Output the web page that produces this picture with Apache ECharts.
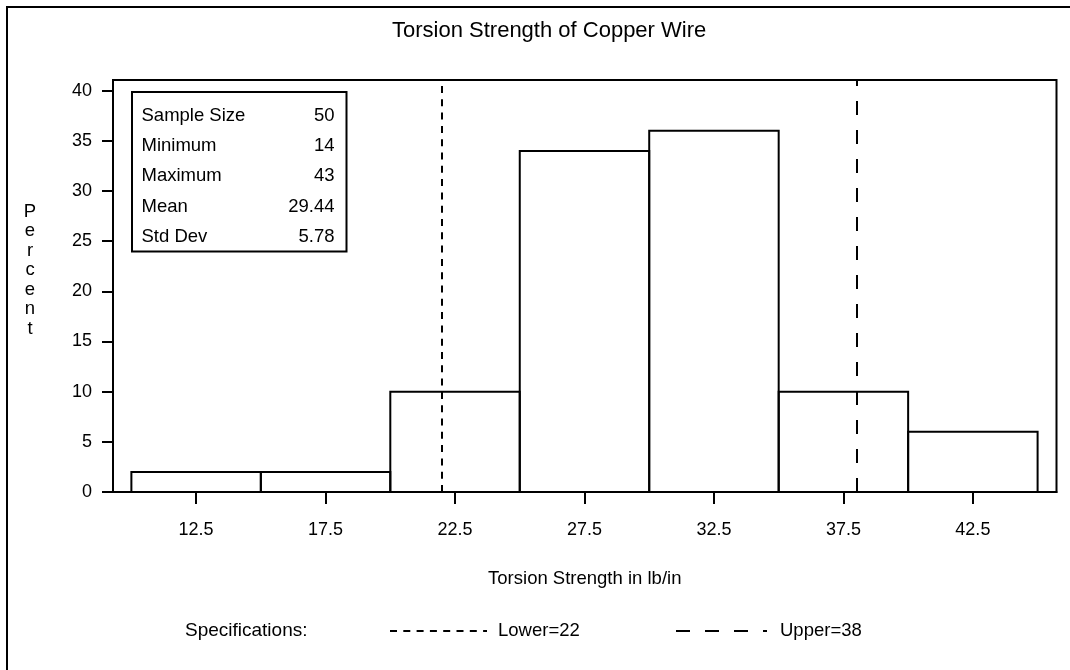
<!DOCTYPE html>
<html>
<head>
<meta charset="utf-8">
<script src="https://cdn.jsdelivr.net/npm/echarts@6/dist/echarts.min.js"></script>
<style>
html,body{margin:0;padding:0;background:#fff;}
#chart{width:1070px;height:670px;}
</style>
</head>
<body>
<div id="chart"></div>
<script>
// ---- data ----
const binEdges = [10, 15, 20, 25, 30, 35, 40, 45];
const percents = [2, 2, 10, 34, 36, 10, 6];
const xTickValues = [12.5, 17.5, 22.5, 27.5, 32.5, 37.5, 42.5];
const yTickValues = [0, 5, 10, 15, 20, 25, 30, 35, 40];
const specLower = 22;
const specUpper = 38;
const statLabels = ['Sample Size', 'Minimum', 'Maximum', 'Mean', 'Std Dev'];
const statValues = ['50', '14', '43', '29.44', '5.78'];
const titleText = 'Torsion Strength of Copper Wire';
const xAxisName = 'Torsion Strength in lb/in';
const yAxisName = 'Percent';

const FONT = '"Liberation Sans", Arial, Helvetica, sans-serif';

const barData = percents.map((p, i) => [binEdges[i], binEdges[i + 1], p]);

const chart = echarts.init(document.getElementById('chart'), null, {renderer: 'canvas'});

const graphics = [];
// outer frame
graphics.push({type: 'rect', shape: {x: 7, y: 7, width: 1075, height: 675},
  style: {fill: 'none', stroke: '#000', lineWidth: 2}, z: 10});
// stats box
graphics.push({type: 'rect', shape: {x: 132, y: 92, width: 214.5, height: 159.5},
  style: {fill: '#fff', stroke: '#000', lineWidth: 2}, z: 10});
statLabels.forEach((s, i) => {
  const y = 116 + i * 30.2;
  graphics.push({type: 'text', x: 141.5, y: y, z: 11,
    style: {text: s, font: '18.5px ' + FONT, fill: '#000', textAlign: 'left', textVerticalAlign: 'middle'}});
  graphics.push({type: 'text', x: 334.5, y: y, z: 11,
    style: {text: statValues[i], font: '18.5px ' + FONT, fill: '#000', textAlign: 'right', textVerticalAlign: 'middle'}});
});
// vertical y-axis name
graphics.push({type: 'text', x: 30, y: 270, z: 11,
  style: {text: yAxisName.split('').join('\n'), font: '18.5px ' + FONT, fill: '#000',
    textAlign: 'center', textVerticalAlign: 'middle', lineHeight: 19.5}});
// legend (specifications)
graphics.push({type: 'text', x: 185, y: 631, z: 11,
  style: {text: 'Specifications:', font: '19px ' + FONT, fill: '#000', textAlign: 'left', textVerticalAlign: 'middle'}});
graphics.push({type: 'line', shape: {x1: 390, y1: 631, x2: 487, y2: 631}, z: 11,
  style: {stroke: '#000', lineWidth: 2, lineDash: [7, 6.3]}});
graphics.push({type: 'text', x: 498, y: 631, z: 11,
  style: {text: 'Lower=' + specLower, font: '18.5px ' + FONT, fill: '#000', textAlign: 'left', textVerticalAlign: 'middle'}});
graphics.push({type: 'line', shape: {x1: 676, y1: 631, x2: 767, y2: 631}, z: 11,
  style: {stroke: '#000', lineWidth: 2, lineDash: [14, 15]}});
graphics.push({type: 'text', x: 780, y: 631, z: 11,
  style: {text: 'Upper=' + specUpper, font: '18.5px ' + FONT, fill: '#000', textAlign: 'left', textVerticalAlign: 'middle'}});

const option = {
  animation: false,
  backgroundColor: '#fff',
  title: {
    text: titleText,
    left: 387, top: 15,
    textStyle: {fontFamily: FONT, fontSize: 22, fontWeight: 'normal', color: '#000'}
  },
  grid: {left: 113, right: 13.5, top: 80, bottom: 178, show: true,
    borderColor: '#000', borderWidth: 2, backgroundColor: 'transparent'},
  xAxis: {
    type: 'value', min: 9.29, max: 45.73,
    name: xAxisName, nameLocation: 'middle', nameGap: 77,
    nameTextStyle: {fontFamily: FONT, fontSize: 18.5, color: '#000'},
    axisLine: {show: true, lineStyle: {color: '#000', width: 2}},
    axisTick: {show: true, length: 12, customValues: xTickValues, lineStyle: {color: '#000', width: 2}},
    axisLabel: {customValues: xTickValues, margin: 29, fontFamily: FONT, fontSize: 18, color: '#000',
      formatter: v => v.toFixed(1)},
    splitLine: {show: false}
  },
  yAxis: {
    type: 'value', min: 0, max: 41.07,
    axisLine: {show: true, lineStyle: {color: '#000', width: 2}},
    axisTick: {show: true, length: 11, customValues: yTickValues, lineStyle: {color: '#000', width: 2}},
    axisLabel: {customValues: yTickValues, margin: 21, fontFamily: FONT, fontSize: 18, color: '#000'},
    splitLine: {show: false}
  },
  series: [{
    type: 'custom',
    data: barData,
    encode: {x: [0, 1], y: 2},
    renderItem: function (params, api) {
      const p0 = api.coord([api.value(0), api.value(2)]);
      const p1 = api.coord([api.value(1), 0]);
      return {type: 'rect',
        shape: {x: p0[0], y: p0[1], width: p1[0] - p0[0], height: p1[1] - p0[1]},
        style: {fill: 'none', stroke: '#000', lineWidth: 2}};
    },
    markLine: {
      silent: true, symbol: ['none', 'none'], label: {show: false},
      data: [
        {xAxis: specLower, lineStyle: {color: '#000', width: 2, type: [7, 6.3]}},
        {xAxis: specUpper, lineStyle: {color: '#000', width: 2, type: [14, 15]}}
      ]
    }
  }],
  graphic: graphics
};
chart.setOption(option);
</script>
</body>
</html>
